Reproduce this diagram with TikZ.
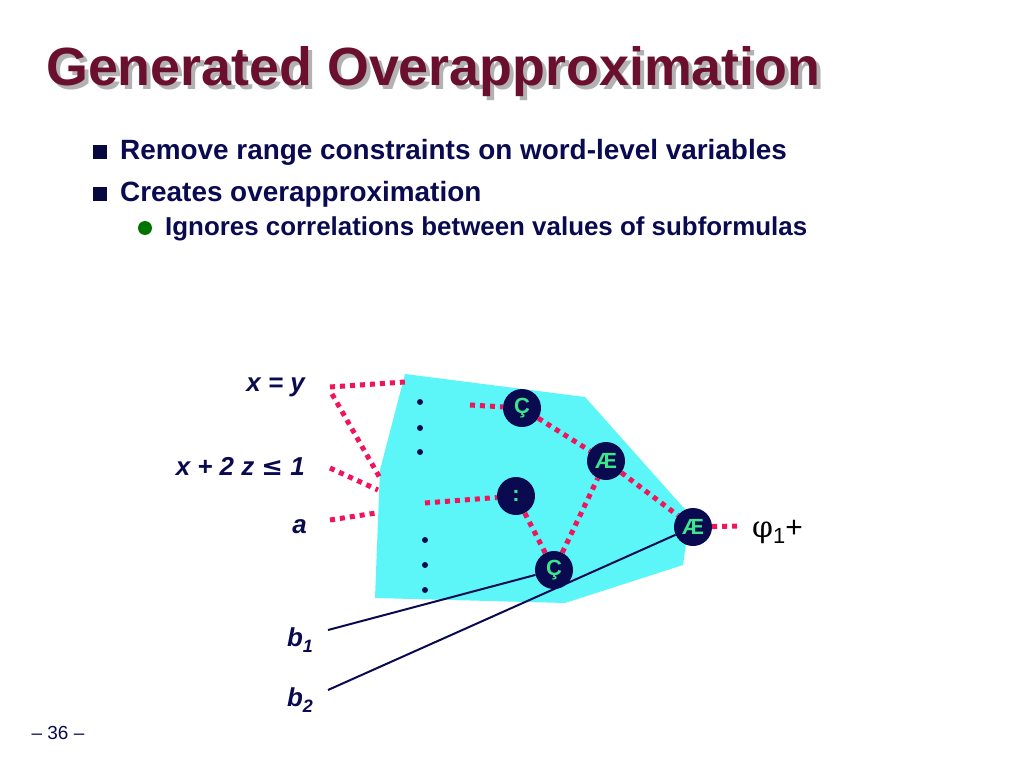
\documentclass[tikz,border=0pt]{standalone}
\usepackage{amsmath}
\usepackage{fontspec}
\setmainfont{Liberation Sans}
\newfontfamily\symfont{DejaVu Serif}
\usetikzlibrary{positioning}
\definecolor{titlered}{HTML}{6B0F2E}
\definecolor{navy}{HTML}{0A0A50}
\definecolor{pinkdot}{HTML}{F0145A}
\definecolor{polycyan}{HTML}{5CF6F8}
\definecolor{gatetext}{HTML}{3CE68C}
\tikzset{
  gate/.style={circle, fill=navy, minimum size=38bp, inner sep=0pt, text=gatetext, font=\bfseries\fontsize{22}{24}\selectfont},
  wire/.style={pinkdot, line width=5bp, dash pattern=on 5bp off 5bp},
  lbl/.style={text=navy, font=\bfseries\itshape\fontsize{26}{28}\selectfont},
  vdot/.style={circle, fill=navy, inner sep=0pt, minimum size=6bp},
}
\begin{document}
\begin{tikzpicture}[x=1bp, y=-1bp]
	\useasboundingbox[fill=white] (0,0) rectangle (1024,768);
	% title
	\node[anchor=west, inner sep=0pt, text=gray!60, font=\bfseries\fontsize{54}{58}\selectfont] at (50,76) {Generated Overapproximation};
	\node[anchor=west, inner sep=0pt, text=titlered, font=\bfseries\fontsize{54}{58}\selectfont] at (46,72) {Generated Overapproximation};
	% bullets
	\fill[navy!80!black] (93,145) rectangle (107,159);
	\node[anchor=west, inner sep=0pt, text=navy, font=\bfseries\fontsize{28}{30}\selectfont] (b1) at (120,152) {Remove range constraints on word-level variables};
	\fill[navy!80!black] (93,187) rectangle (107,201);
	\node[anchor=west, inner sep=0pt, text=navy, font=\bfseries\fontsize{28}{30}\selectfont] (b2) at (120,194) {Creates overapproximation};
	\fill[green!45!black] (145,228) circle (7);
	\node[anchor=west, inner sep=0pt, text=navy, font=\bfseries\fontsize{26}{28}\selectfont] (b3) at (165,229) {Ignores correlations between values of subformulas};
	% abstracted region
	\fill[polycyan] (405,374) -- (585,397) -- (690,515) -- (683,565) -- (565,603) -- (375,598) -- (380,470) -- cycle;
	% inputs
	\node[lbl, anchor=east, inner sep=0pt] (xy) at (305,387) {x = y};
	\node[lbl, anchor=east, inner sep=0pt] (xz) at (305,466) {x + 2 z {\symfont\upshape≤} 1};
	\node[lbl, anchor=east, inner sep=0pt] (a) at (307,527) {a};
	\node[lbl, anchor=east, inner sep=0pt] (bone) at (313,640) {b\raisebox{-6bp}{\fontsize{18}{20}\selectfont 1}};
	\node[lbl, anchor=east, inner sep=0pt] (btwo) at (313,700) {b\raisebox{-6bp}{\fontsize{18}{20}\selectfont 2}};
	% gates
	\node[gate] (c1) at (522,408) {Ç};
	\node[gate] (ae1) at (606,461) {Æ};
	\node[gate] (col) at (516,496) {:};
	\node[gate] (c2) at (554,570) {Ç};
	\node[gate] (ae2) at (693,527) {Æ};
	\node[anchor=west, inner sep=0pt, font=\fontsize{30}{32}\selectfont] (phi) at (752,532) {{\symfont φ}\raisebox{-6bp}{\fontsize{22}{24}\selectfont 1}+};
	\coordinate (xyend) at (405,382);
	\coordinate (xzend) at (380,478);
	\coordinate (xzend2) at (378,490);
	\coordinate (aend) at (376,513);
	\coordinate (c1in) at (470,405);
	\coordinate (colin) at (425,503);
	% dotted wires
	\draw[wire] (330,387) -- (xyend);
	\draw[wire] (332,394) -- (xzend);
	\draw[wire] (330,468) -- (xzend2);
	\draw[wire] (330,520) -- (aend);
	\draw[wire] (c1in) -- (c1);
	\draw[wire] (colin) -- (col);
	\draw[wire] (c1) -- (ae1);
	\draw[wire] (ae1) -- (ae2);
	\draw[wire] (col) -- (c2);
	\draw[wire] (c2) -- (ae1);
	\draw[wire] (ae2) -- (737,526);
	% elided inputs
	\foreach \y in {402,428,452} \node[vdot] at (420,\y) {};
	\foreach \y in {540,565,590} \node[vdot] at (425,\y) {};
	% solid wires
	\draw[navy, line width=2bp] (328,630) -- (c2);
	\draw[navy, line width=2bp] (328,690) -- (ae2);
	\node[text=navy, font=\fontsize{19}{21}\selectfont] (pg) at (58,733) {-- 36 --};
\end{tikzpicture}
\end{document}
